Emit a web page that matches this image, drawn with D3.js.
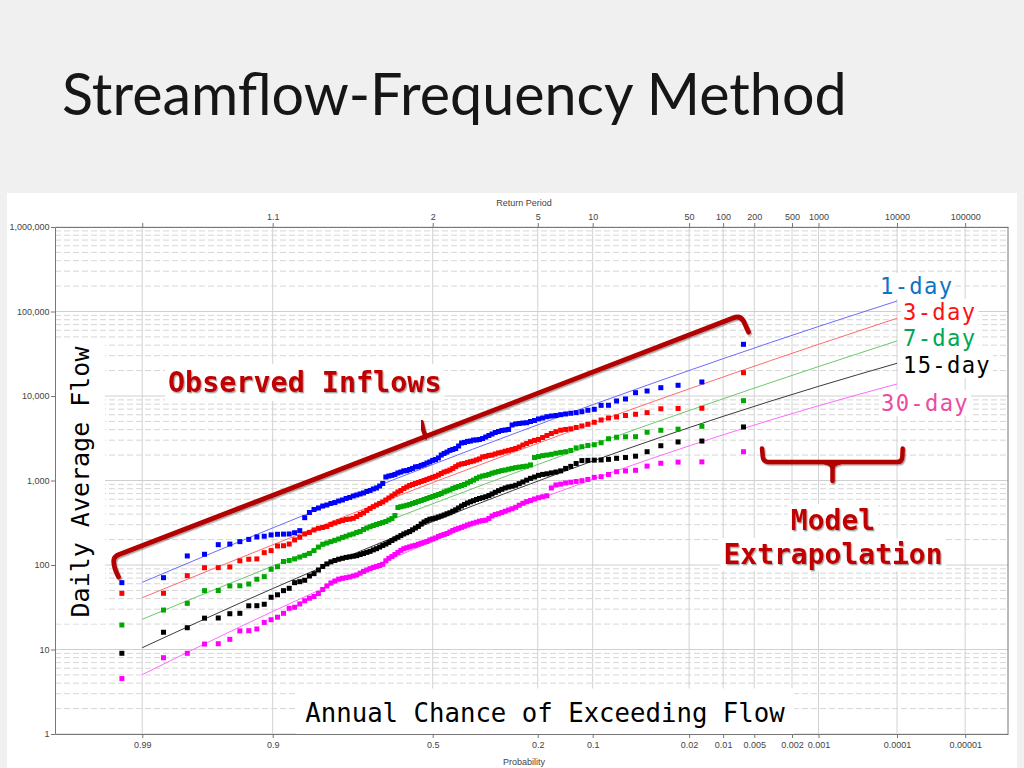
<!DOCTYPE html>
<html><head><meta charset="utf-8">
<script src="https://cdn.jsdelivr.net/npm/d3@7"></script>
<style>
html,body{margin:0;padding:0;background:#f0f0f0;}
svg{display:block;}
</style></head><body>
<svg id="c" width="1024" height="768"></svg>
<script>
// ---------------- DATA ----------------
// Observed annual-maximum flows, ranked largest to smallest (cfs)
const flow1 = [40900,14650,13390,12540,11460,10940,9220,8730,7770,7750,
6960,6780,6520,6350,6250,6130,6010,5880,5800,5690,
5490,5350,5130,4990,4830,4790,4730,4670,4540,4020,
3960,3910,3800,3700,3550,3410,3270,3140,3060,3020,
3010,2930,2900,2820,2780,2560,2390,2330,2270,2170,
2090,2000,1850,1770,1730,1660,1610,1550,1510,1460,
1450,1390,1350,1310,1300,1260,1230,1180,1150,1130,
1100,922,861,816,794,762,741,712,693,674,
656,630,613,588,572,549,535,513,499,473,
454,418,363,255,241,233,232,231,227,219,
215,201,189,177,174,134,128,70.8,61.8];
const flow3 = [18870,7160,7120,7060,6350,6080,5880,5650,5490,5200,
4890,4630,4420,4240,4090,4020,3940,3780,3600,3410,
3230,3060,2980,2880,2740,2630,2490,2390,2330,2270,
2220,2160,2120,2060,2000,1980,1930,1900,1800,1750,
1700,1670,1630,1590,1570,1530,1460,1390,1330,1290,
1260,1210,1160,1120,1090,1060,1030,1000,974,948,
922,897,873,838,805,762,731,693,656,621,
588,557,535,513,490,467,442,413,396,375,
357,350,346,336,326,314,302,286,278,272,
260,243,233,213,198,177,169,168,148,140,
118,117,112,94.8,93.0,92.9,74.8,46.3,46.2];
const flow7 = [8800,4380,4050,3930,3730,3300,3290,3250,3120,2800,
2650,2600,2510,2430,2270,2190,2150,2100,2040,2000,
1970,1920,1870,1530,1480,1460,1440,1420,1390,1360,
1330,1310,1280,1250,1220,1180,1150,1130,1100,1060,
1010,974,935,897,873,850,827,805,772,752,
731,702,683,665,647,630,613,596,580,565,
549,535,520,509,499,490,479,385,355,341,
327,318,310,302,293,284,274,263,249,243,
233,227,219,212,203,196,189,182,176,163,
148,137,130,124,118,113,110,95.5,89.0,72.8,
67.8,59.6,56.8,56.5,49.9,49.7,35.2,29.3,19.5];
const flow15 = [4300,2930,2860,2580,2190,1940,1870,1830,1780,1750,
1740,1730,1720,1590,1470,1390,1300,1260,1230,1200,
1180,1150,1100,1060,1010,961,917,878,854,838,
816,787,758,725,693,665,642,626,613,596,
577,560,542,520,499,473,450,433,415,404,
391,380,370,360,353,348,336,323,306,286,
274,261,249,241,233,223,213,204,195,185,
177,170,163,156,151,145,141,137,133,129,
127,125,123,120,117,113,109,103,96.1,87.3,
79.0,74.1,66.0,63.5,61.8,53.0,49.7,44.4,41.5,34.3,
33.0,32.9,26.8,26.5,23.6,23.5,18.1,16.0,9.02];
const flow30 = [2190,1660,1650,1600,1480,1320,1300,1270,1180,1110,
1090,1030,995,974,955,935,905,885,816,660,
642,625,604,580,562,538,510,482,463,448,
433,418,405,396,380,355,339,335,330,321,
313,306,298,288,279,272,265,256,246,236,
230,224,218,209,203,198,190,186,181,176,
171,168,164,160,156,149,141,133,126,120,
112,102,98.6,96.1,93.5,90.5,87.3,83.8,80.0,76.2,
74.1,72.2,70.8,69.6,68.0,64.7,61.3,56.5,51.3,46.0,
42.4,40.4,37.8,34.6,31.6,30.7,26.8,24.1,22.5,20.9,
17.5,16.7,16.6,13.2,11.7,11.6,9.02,8.00,4.53];

// Fitted frequency curves: flow quantiles at these exceedance probabilities
const fitProb = [0.99, 0.9, 0.5, 0.1, 0.01, 0.001, 0.0001];
const fit1  = [62.4, 274.6, 1545, 7882, 27660, 66440, 133000];
const fit3  = [41.0, 173.1, 944, 4760, 16800, 40860, 83200];
const fit7  = [22.8, 97.0, 531, 2661, 9280, 22290, 44800];
const fit15 = [10.5, 52.6, 326, 1698, 5741, 13010, 24370];
const fit30 = [5.04, 28.2, 191, 1034, 3473, 7665, 13870];

const seriesNames = ["1-day","3-day","7-day","15-day","30-day"];

// Axis ticks
const probTicks = [0.99,0.9,0.5,0.2,0.1,0.02,0.01,0.005,0.002,0.001,0.0001,0.00001];
const probLabels = ["0.99","0.9","0.5","0.2","0.1","0.02","0.01","0.005","0.002","0.001","0.0001","0.00001"];
const returnLabels = ["","1.1","2","5","10","50","100","200","500","1000","10000","100000"];
const yTicks = [1,10,100,1000,10000,100000,1000000];

// ---------------- STYLE ----------------
const ptColors = ["#0000ff","#ff0000","#00a800","#000000","#ff00ff"];
const lnColors = ["#6b6bff","#ff6b6b","#6cc86c","#3a3a3a","#ff6bff"];
const lblColors = ["#0b74c4","#ff1010","#00a651","#000000","#ee4a9e"];

// inverse standard normal (Acklam)
function qnorm(p){
  const a=[-3.969683028665376e+01,2.209460984245205e+02,-2.759285104469687e+02,1.383577518672690e+02,-3.066479806614716e+01,2.506628277459239e+00];
  const b=[-5.447609879822406e+01,1.615858368580409e+02,-1.556989798598866e+02,6.680131188771972e+01,-1.328068155288572e+01];
  const c=[-7.784894002430293e-03,-3.223964580411365e-01,-2.400758277161838e+00,-2.549732539343734e+00,4.374664141464968e+00,2.938163982698783e+00];
  const d=[7.784695709041462e-03,3.224671290700398e-01,2.445134137142996e+00,3.754408661907416e+00];
  const pl=0.02425, ph=1-pl; let q,r;
  if(p<pl){q=Math.sqrt(-2*Math.log(p));return (((((c[0]*q+c[1])*q+c[2])*q+c[3])*q+c[4])*q+c[5])/((((d[0]*q+d[1])*q+d[2])*q+d[3])*q+1);}
  if(p>ph){q=Math.sqrt(-2*Math.log(1-p));return -(((((c[0]*q+c[1])*q+c[2])*q+c[3])*q+c[4])*q+c[5])/((((d[0]*q+d[1])*q+d[2])*q+d[3])*q+1);}
  q=p-0.5;r=q*q;return (((((a[0]*r+a[1])*r+a[2])*r+a[3])*r+a[4])*r+a[5])*q/(((((b[0]*r+b[1])*r+b[2])*r+b[3])*r+b[4])*r+1);
}
const zE = p => -qnorm(p);   // normal deviate for exceedance probability

const P = {left:55, right:1008, top:227, bottom:734};
const x = d3.scaleLinear().domain([-3.025, 4.608]).range([P.left, P.right]);
const y = d3.scaleLog().domain([1, 1e6]).range([P.bottom, P.top]);
const px = p => x(zE(p));

const svg = d3.select("#c");
const defs = svg.append("defs");
const f = defs.append("filter").attr("id","sh").attr("x","-10%").attr("y","-10%").attr("width","130%").attr("height","140%");
f.append("feDropShadow").attr("dx",1.2).attr("dy",1.4).attr("stdDeviation",0.7).attr("flood-color","#000").attr("flood-opacity",0.35);

svg.append("rect").attr("width",1024).attr("height",768).attr("fill","#f0f0f0");
svg.append("text").attr("x",62).attr("y",115)
  .attr("font-family","Lato, 'Open Sans', sans-serif").attr("font-size",57.4).attr("fill","#161616")
  .text("Streamflow-Frequency Method");
svg.append("rect").attr("x",7).attr("y",193).attr("width",1010).attr("height",575).attr("fill","#ffffff");

const gGrid = svg.append("g");
const gBox = svg.append("g");
const gData = svg.append("g");
const gAx = svg.append("g");
const gAnno = svg.append("g");

// grid
const minor = [];
for (let d=1; d<1e6; d*=10) for (let k=2;k<=9;k++) minor.push(k*d);
gGrid.selectAll("line.mn").data(minor).join("line")
  .attr("x1",P.left).attr("x2",P.right).attr("y1",d=>y(d)).attr("y2",d=>y(d))
  .attr("stroke","#d6d6d6").attr("stroke-dasharray","6,3").attr("stroke-width",1);
gGrid.selectAll("line.mj").data(yTicks).join("line")
  .attr("x1",P.left).attr("x2",P.right).attr("y1",d=>y(d)).attr("y2",d=>y(d))
  .attr("stroke","#cfcfcf").attr("stroke-width",1);
gGrid.selectAll("line.v").data(probTicks).join("line")
  .attr("x1",d=>px(d)).attr("x2",d=>px(d)).attr("y1",P.top).attr("y2",P.bottom)
  .attr("stroke","#d2d2d2").attr("stroke-width",1);

// axes
const zTicks = probTicks.map(zE);
function styleAxis(g){
  g.selectAll("path").attr("stroke","#777");
  g.selectAll("line").attr("stroke","#777");
  g.selectAll("text").attr("font-family","'Liberation Sans', Arial, sans-serif").attr("font-size",9).attr("fill","#444");
}
gAx.append("g").attr("transform",`translate(0,${P.bottom})`)
  .call(d3.axisBottom(x).tickValues(zTicks).tickFormat((d,i)=>probLabels[i]).tickSize(4).tickPadding(4).tickSizeOuter(0))
  .call(styleAxis);
gAx.append("g").attr("transform",`translate(0,${P.top})`)
  .call(d3.axisTop(x).tickValues(zTicks).tickFormat((d,i)=>returnLabels[i]).tickSize(4).tickPadding(3).tickSizeOuter(0))
  .call(styleAxis);
gAx.append("g").attr("transform",`translate(${P.left},0)`)
  .call(d3.axisLeft(y).tickValues(yTicks).tickFormat(d3.format(",")).tickSize(4).tickPadding(1.5).tickSizeOuter(0))
  .call(styleAxis);
gAx.append("line").attr("x1",P.right).attr("x2",P.right).attr("y1",P.top).attr("y2",P.bottom).attr("stroke","#777");
gAx.append("text").attr("x",524).attr("y",205.5).attr("text-anchor","middle")
  .attr("font-family","'Liberation Sans', Arial, sans-serif").attr("font-size",9).attr("fill","#444").text("Return Period");
gAx.append("text").attr("x",524).attr("y",764.5).attr("text-anchor","middle")
  .attr("font-family","'Liberation Sans', Arial, sans-serif").attr("font-size",9).attr("fill","#444").text("Probability");

// data
const flows = [flow1, flow3, flow7, flow15, flow30];
const fits = [fit1, fit3, fit7, fit15, fit30];
const line = d3.line().x(d=>px(d[0])).y(d=>y(d[1])).curve(d3.curveMonotoneX);
fits.forEach((fv,i)=>{
  gData.append("path").datum(fitProb.map((p,j)=>[p,fv[j]]))
    .attr("d",line).attr("fill","none").attr("stroke",lnColors[i]).attr("stroke-width",1);
});
// median plotting positions (m-0.3)/(n+0.4) by rank
flows.forEach((fl,i)=>{
  const n = fl.length;
  gData.append("g").selectAll("rect").data(fl).join("rect")
    .attr("x",(d,m)=>px((m+1-0.3)/(n+0.4))-2.5)
    .attr("y",d=>y(d)-2.5).attr("width",5).attr("height",5)
    .attr("fill",ptColors[i]);
});

// annotations
const mono = "'DejaVu Sans Mono', 'Liberation Mono', monospace";
function boxed(txt, xx, yy, opt){
  const t = gAnno.append("text").attr("x",xx).attr("y",yy)
    .attr("font-family",mono).attr("font-size",opt.size).attr("fill",opt.color)
    .attr("font-weight",opt.weight||"normal").attr("text-anchor",opt.anchor||"start").text(txt);
  if (opt.ls) t.attr("letter-spacing",opt.ls);
  if (opt.rotate) t.attr("transform",`rotate(-90,${xx},${yy})`);
  if (opt.shadow) t.attr("filter","url(#sh)");
  const bb = t.node().getBBox();
  const pad = opt.pad||[2,0];
  let bx=bb.x, by=bb.y, bw=bb.width, bh=bb.height;
  if (opt.rotate){ // rotated bbox
    const cx=xx, cy=yy;
    const x0 = cx + (bb.y - cy), y0 = cy - (bb.x + bb.width - cx);
    bx = x0; by = y0; bw = bb.height; bh = bb.width;
  }
  gBox.append("rect").attr("x",bx-pad[0]).attr("y",by-pad[1]).attr("width",bw+2*pad[0]).attr("height",bh+2*pad[1]).attr("fill","#fff");
  return t;
}
const lblPos = [[880,294],[903,320],[903,346],[903,373],[881,411]];
seriesNames.forEach((s,i)=>boxed(s, lblPos[i][0], lblPos[i][1], {size:22.2, ls:1.3, color:lblColors[i]}));

boxed("Observed Inflows", 168, 392, {size:28.4, color:"#c00000", weight:"bold", shadow:true, pad:[3,2]});
boxed("Model", 833, 530, {size:28, color:"#c00000", weight:"bold", anchor:"middle", shadow:true, pad:[3,0]});
boxed("Extrapolation", 833, 564, {size:28, color:"#c00000", weight:"bold", anchor:"middle", shadow:true, pad:[3,0]});
boxed("Daily Average Flow", 89, 482, {size:25, color:"#000", anchor:"middle", rotate:true, pad:[10,6]});
boxed("Annual Chance of Exceeding Flow", 545, 721.5, {size:25.7, color:"#000", anchor:"middle", pad:[9,9]});

// brackets
const red = "#b30000";
gAnno.append("path")
  .attr("d","M118.5,577 Q112.5,565 114,559 Q115,556 119,554.5 L733,318 Q740,315 743.5,321 L748.5,332")
  .attr("fill","none").attr("stroke",red).attr("stroke-width",4.8).attr("stroke-linecap","round").attr("stroke-linejoin","round").attr("filter","url(#sh)");
gAnno.append("path").attr("d","M426,437 Q423,431 421.5,422")
  .attr("fill","none").attr("stroke",red).attr("stroke-width",4.5).attr("stroke-linecap","round").attr("filter","url(#sh)");
gAnno.append("path")
  .attr("d","M762,448.5 L762.8,457 Q763.5,462 768.5,462 L897,462 Q902,462 902.3,457 L902.7,448.5 M825,462.5 Q832.5,463 832.5,469 L832.5,481 M840,462.5 Q832.5,463 832.5,469")
  .attr("fill","none").attr("stroke",red).attr("stroke-width",4.5).attr("stroke-linecap","round").attr("stroke-linejoin","round").attr("filter","url(#sh)");
</script>
</body></html>
